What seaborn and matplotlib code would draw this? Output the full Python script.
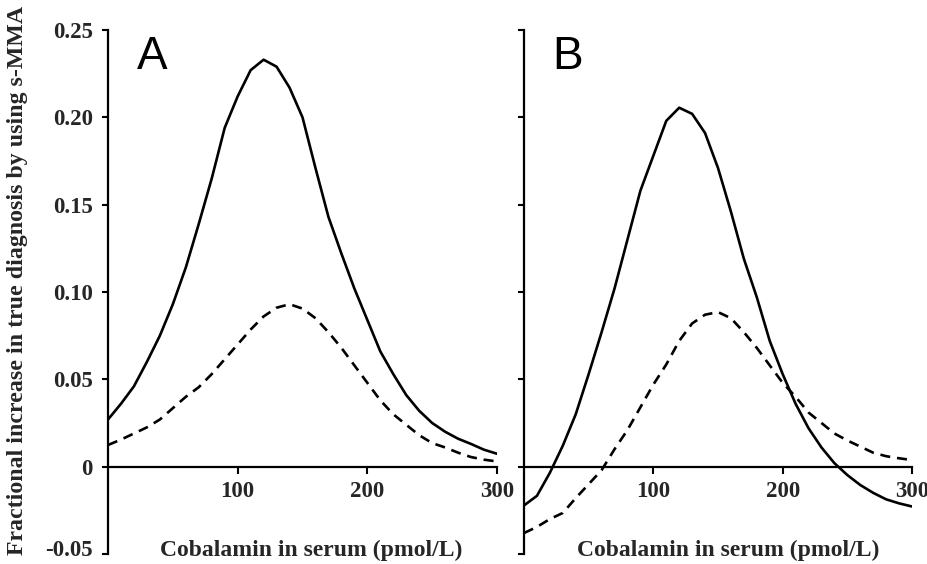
import numpy as np
import pandas as pd
import matplotlib
matplotlib.use("Agg")
import matplotlib.pyplot as plt
import matplotlib.transforms as mtransforms
import seaborn as sns

# ---- data ----
cobalamin = list(range(0, 301, 10))

a_solid = [0.027, 0.036, 0.046, 0.060, 0.075, 0.093, 0.114, 0.139, 0.165, 0.194,
           0.212, 0.227, 0.233, 0.229, 0.217, 0.200, 0.171, 0.143, 0.122, 0.102,
           0.084, 0.066, 0.053, 0.041, 0.032, 0.025, 0.020, 0.016, 0.013, 0.0097,
           0.0074]
a_dashed = [0.0124, 0.0155, 0.019, 0.0225, 0.027, 0.0335, 0.040, 0.0455, 0.053, 0.0615,
            0.070, 0.0785, 0.086, 0.091, 0.093, 0.0905, 0.085, 0.077, 0.068, 0.058,
            0.048, 0.038, 0.030, 0.024, 0.018, 0.0135, 0.011, 0.008, 0.0055, 0.004,
            0.003]
b_solid = [-0.0222, -0.0167, -0.0035, 0.012, 0.030, 0.053, 0.077, 0.102, 0.130, 0.158,
           0.178, 0.198, 0.2055, 0.202, 0.191, 0.171, 0.146, 0.119, 0.097, 0.072,
           0.053, 0.036, 0.022, 0.011, 0.002, -0.0048, -0.0105, -0.015, -0.0187, -0.021,
           -0.0228]
b_dashed = [-0.038, -0.0345, -0.030, -0.0265, -0.018, -0.010, -0.002, 0.010, 0.021, 0.034,
            0.047, 0.0585, 0.072, 0.082, 0.087, 0.0885, 0.085, 0.077, 0.068, 0.058,
            0.048, 0.040, 0.031, 0.025, 0.019, 0.015, 0.0115, 0.008, 0.006, 0.0048,
            0.0038]

y_ticks = [-0.05, 0, 0.05, 0.10, 0.15, 0.20, 0.25]
y_tick_labels = ["-0.05", "0", "0.05", "0.10", "0.15", "0.20", "0.25"]
x_ticks = [100, 200, 300]
x_tick_labels = ["100", "200", "300"]
panel_labels = ["A", "B"]
x_label = "Cobalamin in serum (pmol/L)"
y_label = "Fractional increase in true diagnosis by using s-MMA"

# ---- style ----
sns.set_style("white")
plt.rcParams["font.family"] = ["Liberation Serif", "DejaVu Serif"]

fig = plt.figure(figsize=(9.28, 5.64), dpi=100)
W, H = 928, 564
axA = fig.add_axes([108 / W, 1 - 554 / H, 389 / W, 524 / H])
axB = fig.add_axes([524 / W, 1 - 554 / H, 388 / W, 524 / H])

serif = ["Liberation Serif", "DejaVu Serif"]
tick_font = dict(family=serif, weight="bold", size=16.5)
label_font = dict(family=serif, weight="bold", size=17)

for ax, solid, dashed, lab in [(axA, a_solid, a_dashed, panel_labels[0]),
                               (axB, b_solid, b_dashed, panel_labels[1])]:
    df = pd.DataFrame({"x": cobalamin, "solid": solid, "dashed": dashed})
    sns.lineplot(data=df, x="x", y="solid", ax=ax, color="black", lw=1.9)
    sns.lineplot(data=df, x="x", y="dashed", ax=ax, color="black", lw=1.9,
                 linestyle=(0, (3.8, 2.6)))
    ax.set_xlim(0, 300)
    ax.set_ylim(-0.05, 0.25)
    for s in ["top", "right"]:
        ax.spines[s].set_visible(False)
    ax.spines["bottom"].set_position(("data", 0))
    for s in ["bottom", "left"]:
        ax.spines[s].set_linewidth(1.6)
        ax.spines[s].set_color("black")
    ax.set_xticks(x_ticks)
    ax.set_xticklabels(x_tick_labels, fontdict=tick_font)
    ax.set_yticks(y_ticks)
    ax.tick_params(axis="x", bottom=True, direction="out", length=5, width=1.5,
                   pad=5, color="black")
    ax.tick_params(axis="y", left=True, direction="out", length=4, width=1.5,
                   pad=7, color="black")
    ax.set_xlabel("")
    ax.set_ylabel("")
    ax.text(22, 0.247, lab, family=["Liberation Sans", "DejaVu Sans"], fontsize=33,
            ha="left", va="top", color="black")

axA.set_yticklabels(y_tick_labels, fontdict=tick_font)
axB.set_yticklabels([])

# nudge the lowest tick label up a little so it stays inside the figure
lbl = axA.yaxis.get_major_ticks()[0].label1
lbl.set_transform(lbl.get_transform() +
                  mtransforms.ScaledTranslation(0, 4 / 72, fig.dpi_scale_trans))

fig.text(311 / W, 1 - 550 / H, x_label, ha="center", va="center", **label_font)
fig.text(728 / W, 1 - 550 / H, x_label, ha="center", va="center", **label_font)
fig.text(18 / W, 1 - 280 / H, y_label, ha="center", va="center", rotation=90,
         family=serif, weight="bold", size=17.2)

fig.savefig("out.png", dpi=100)
